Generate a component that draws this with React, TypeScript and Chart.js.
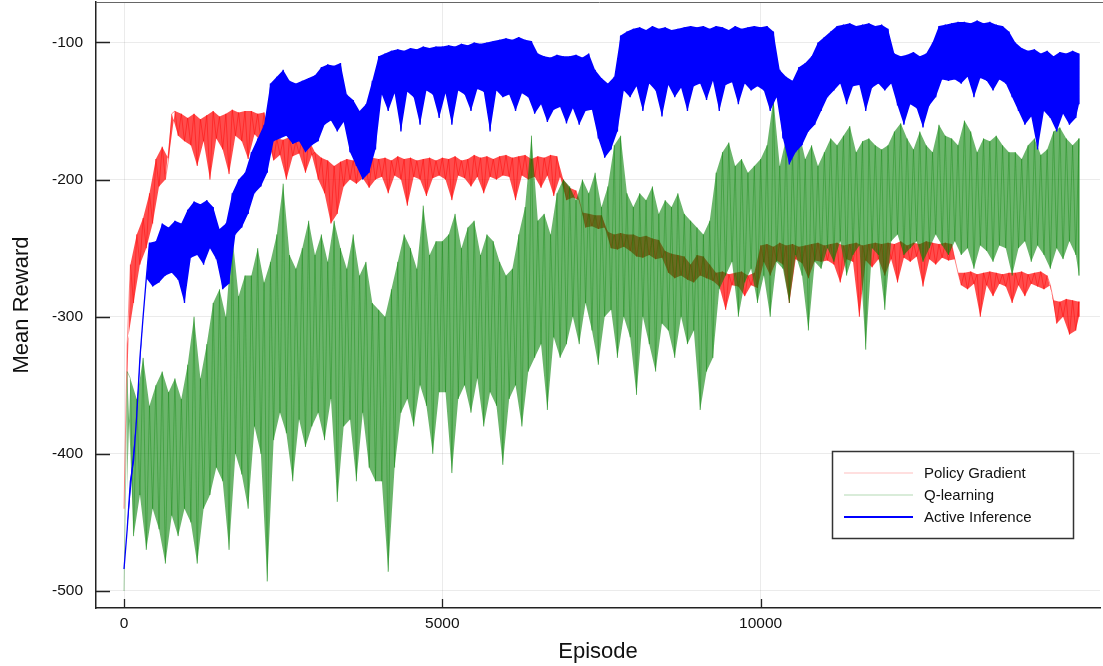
import React, { useEffect, useRef } from "react";
import { Chart, registerables } from "chart.js";
Chart.register(...registerables);

// Two readings per 100-episode bin: at episode i*100 ("even") and i*100+50 ("odd")
const BIN = 100;
const LAST_EPISODE = 15000;
const xTicks = [0, 5000, 10000];
const yTicks = [-500, -400, -300, -200, -100];
const seriesLabels = ["Policy Gradient", "Q-learning", "Active Inference"];

const policyEven = [
  -440, -262, -240, -228, -210, -185, -176, -185, -150, -152,
  -155, -152, -156, -153, -150, -154, -152, -149, -151, -150,
  -150, -152, -151, -168, -170, -171, -169, -172, -170, -171,
  -180, -184, -186, -190, -187, -185, -186, -185, -188, -184,
  -185, -184, -186, -183, -185, -184, -186, -185, -184, -186,
  -184, -185, -183, -186, -185, -182, -184, -183, -185, -183,
  -182, -184, -183, -182, -185, -183, -184, -182, -183, -200,
  -206, -208, -224, -225, -226, -226, -238, -240, -239, -240,
  -240, -242, -241, -243, -244, -252, -254, -255, -256, -262,
  -255, -256, -262, -268, -267, -269, -268, -267, -270, -268,
  -248, -247, -249, -246, -248, -247, -249, -248, -247, -246,
  -248, -247, -246, -248, -247, -246, -248, -247, -246, -247,
  -246, -247, -245, -248, -246, -247, -245, -246, -247, -246,
  -247, -268, -268, -267, -269, -268, -267, -268, -269, -268,
  -268, -267, -269, -268, -267, -270, -288, -289, -287, -288,
  -289,
];
const policyOdd = [
  -320, -290, -262, -250, -232, -205, -200, -152, -168, -172,
  -175, -190, -172, -200, -170, -178, -196, -168, -172, -185,
  -167, -172, -170, -186, -182, -200, -183, -181, -195, -182,
  -200, -210, -232, -225, -205, -200, -203, -199, -206, -200,
  -198, -210, -197, -200, -219, -198, -200, -212, -199, -197,
  -200, -215, -197, -199, -205, -198, -210, -198, -200, -197,
  -198, -215, -197, -200, -198, -206, -197, -212, -198, -215,
  -213, -215, -235, -234, -236, -235, -250, -251, -249, -252,
  -256, -257, -255, -258, -257, -268, -272, -270, -273, -275,
  -270, -272, -274, -278, -295, -277, -278, -285, -277, -279,
  -260, -270, -259, -262, -290, -258, -261, -272, -259, -260,
  -259, -262, -275, -258, -260, -300, -259, -264, -258, -270,
  -258, -275, -257, -260, -256, -278, -258, -262, -257, -259,
  -258, -277, -280, -276, -300, -277, -285, -276, -278, -290,
  -277, -285, -276, -278, -280, -277, -305, -300, -313, -310,
  -300,
];

const qEven = [
  -500, -345, -360, -330, -365, -350, -340, -355, -345, -360,
  -335, -300, -345, -320, -290, -280, -300, -240, -285, -270,
  -270, -250, -275, -260, -240, -203, -255, -265, -250, -230,
  -255, -240, -260, -230, -250, -265, -240, -270, -260, -290,
  -295, -300, -280, -260, -240, -250, -265, -219, -255, -245,
  -245, -240, -225, -250, -235, -230, -255, -240, -245, -260,
  -270, -265, -240, -220, -168, -230, -225, -240, -210, -200,
  -205, -215, -200, -210, -195, -220, -205, -175, -168, -210,
  -220, -210, -215, -205, -225, -215, -220, -210, -225, -230,
  -235, -240, -230, -195, -180, -173, -190, -185, -195, -190,
  -185, -175, -141, -190, -170, -180, -165, -185, -175, -190,
  -180, -170, -175, -168, -161, -180, -172, -170, -175, -178,
  -175, -165, -159, -170, -178, -165, -175, -180, -160, -168,
  -170, -175, -157, -165, -180, -170, -172, -168, -175, -180,
  -180, -185, -175, -170, -182, -178, -165, -162, -170, -175,
  -170,
];
const qOdd = [
  -340, -460, -430, -470, -440, -455, -480, -445, -460, -440,
  -450, -480, -440, -430, -410, -420, -470, -400, -415, -440,
  -380, -400, -493, -390, -370, -385, -420, -375, -395, -380,
  -370, -390, -360, -435, -380, -375, -420, -370, -410, -420,
  -420, -486, -410, -370, -360, -380, -350, -365, -400, -355,
  -355, -414, -360, -350, -370, -345, -380, -355, -365, -408,
  -360, -350, -380, -340, -330, -320, -368, -315, -330, -320,
  -300, -320, -290, -310, -335, -300, -295, -330, -300, -315,
  -357, -300, -320, -340, -305, -310, -330, -300, -320, -310,
  -368, -340, -330, -280, -270, -260, -300, -275, -265, -290,
  -270, -300, -260, -265, -290, -255, -270, -310, -260, -265,
  -250, -260, -245, -270, -255, -248, -324, -250, -255, -295,
  -245, -240, -255, -250, -245, -260, -250, -240, -248, -255,
  -245, -255, -250, -265, -248, -252, -260, -248, -250, -270,
  -250, -245, -260, -248, -255, -265, -250, -258, -245, -255,
  -270,
];

const activeEven = [
  -484, -420, -372, -300, -246, -245, -232, -235, -230, -232,
  -222, -216, -218, -215, -220, -236, -232, -210, -200, -195,
  -180, -170, -160, -130, -125, -120, -128, -130, -128, -126,
  -124, -118, -116, -117, -115, -138, -142, -150, -145, -128,
  -110, -108, -106, -105, -106, -104, -105, -103, -104, -103,
  -103, -102, -103, -101, -102, -100, -101, -100, -99, -98,
  -97, -98, -96, -98, -99, -108, -110, -111, -109, -110,
  -110, -109, -111, -108, -120, -126, -130, -125, -95, -92,
  -90, -89, -91, -88, -90, -89, -91, -90, -89, -88,
  -89, -88, -90, -88, -89, -91, -88, -90, -89, -88,
  -89, -88, -92, -120, -125, -128, -118, -115, -110, -100,
  -96, -92, -88, -87, -86, -88, -87, -86, -88, -87,
  -90, -108, -110, -109, -107, -110, -108, -100, -88, -87,
  -86, -85, -85, -86, -84, -86, -85, -87, -88, -92,
  -100, -104, -106, -105, -108, -106, -110, -107, -108, -106,
  -108,
];
const activeOdd = [
  -455, -405, -330, -272, -278, -275, -270, -268, -273, -290,
  -257, -255, -262, -250, -258, -280, -276, -240, -235, -225,
  -210, -205, -195, -172, -170, -168, -174, -172, -180, -175,
  -172, -160, -157, -165, -158, -180, -190, -200, -195, -178,
  -138, -150, -137, -165, -136, -140, -160, -135, -138, -155,
  -137, -160, -135, -138, -150, -134, -136, -165, -135, -140,
  -138, -150, -137, -140, -152, -145, -158, -149, -147, -159,
  -148, -160, -150, -149, -170, -184, -178, -165, -135, -140,
  -132, -150, -130, -135, -154, -131, -140, -133, -150, -132,
  -130, -142, -128, -150, -131, -129, -145, -130, -135, -132,
  -135, -150, -140, -170, -189, -180, -175, -165, -160, -150,
  -140, -135, -130, -145, -132, -131, -150, -133, -130, -135,
  -130, -146, -160, -145, -148, -162, -146, -140, -127, -128,
  -127, -130, -125, -140, -126, -128, -135, -127, -130, -140,
  -150, -160, -154, -178, -150, -155, -165, -152, -160, -155,
  -145,
];

const X_MIN = -440;
const X_MAX = 15330;
const Y_MIN = -512.4;
const Y_MAX = -70.5;

const FONT = "'Liberation Sans', Arial, Helvetica, sans-serif";

function evenPoints(even: number[]) {
  return even.map((v, i) => ({ x: i * BIN, y: v }));
}
function oddPoints(odd: number[]) {
  return odd.map((v, i) => ({ x: Math.min(i * BIN + BIN / 2, LAST_EPISODE), y: v }));
}
function zigzag(even: number[], odd: number[]) {
  const pts: { x: number; y: number }[] = [];
  for (let i = 0; i < even.length; i++) {
    pts.push({ x: i * BIN, y: even[i] });
    pts.push({ x: Math.min(i * BIN + BIN / 2, LAST_EPISODE), y: odd[i] });
  }
  return pts;
}

const legendStyles = [
  { color: "rgba(255,0,0,0.25)", width: 1.2 },
  { color: "rgba(0,128,0,0.2)", width: 1.5 },
  { color: "rgb(0,0,255)", width: 2 },
];

function zeroPadding(s: any) {
  s.paddingTop = 0;
  s.paddingBottom = 0;
  s.paddingLeft = 0;
  s.paddingRight = 0;
}

const decorPlugin = {
  id: "decor",
  afterDatasetsDraw(chart: any) {
    const { ctx, chartArea: a, scales } = chart;
    ctx.save();
    ctx.strokeStyle = "#666";
    ctx.lineWidth = 1;
    ctx.beginPath();
    ctx.moveTo(a.left, a.top + 0.5);
    ctx.lineTo(chart.width, a.top + 0.5);
    ctx.stroke();
    ctx.strokeStyle = "#222";
    ctx.lineWidth = 1.3;
    ctx.beginPath();
    yTicks.forEach((v) => {
      const y = Math.round(scales.y.getPixelForValue(v)) + 0.5;
      ctx.moveTo(a.left, y);
      ctx.lineTo(a.left + 14, y);
    });
    xTicks.forEach((v) => {
      const x = Math.round(scales.x.getPixelForValue(v)) + 0.5;
      ctx.moveTo(x, a.bottom);
      ctx.lineTo(x, a.bottom - 9);
    });
    ctx.stroke();
    const bw = 241;
    const bh = 87;
    const bx = a.right - 27 - bw;
    const by = a.bottom - 70 - bh;
    ctx.fillStyle = "#fff";
    ctx.fillRect(bx, by, bw, bh);
    ctx.strokeStyle = "#333";
    ctx.lineWidth = 1.5;
    ctx.strokeRect(bx + 0.5, by + 0.5, bw, bh);
    ctx.font = `15px ${FONT}`;
    ctx.textBaseline = "middle";
    ctx.textAlign = "left";
    seriesLabels.forEach((label, i) => {
      const y = by + 22 + i * 22;
      ctx.strokeStyle = legendStyles[i].color;
      ctx.lineWidth = legendStyles[i].width;
      ctx.beginPath();
      ctx.moveTo(bx + 12, y);
      ctx.lineTo(bx + 81, y);
      ctx.stroke();
      ctx.fillStyle = "#111";
      ctx.fillText(label, bx + 92, y + 1);
    });
    ctx.restore();
  },
};

function seriesGroup(label: string, even: number[], odd: number[], band: string, line: string, width: number, baseOrder: number) {
  return [
    {
      label: label + " band",
      data: evenPoints(even),
      borderWidth: 0,
      borderColor: "rgba(0,0,0,0)",
      backgroundColor: band,
      fill: "+1",
      order: baseOrder + 2,
    },
    {
      label: label + " band lower",
      data: oddPoints(odd),
      borderWidth: 0,
      borderColor: "rgba(0,0,0,0)",
      fill: false,
      order: baseOrder + 1,
    },
    {
      label,
      data: zigzag(even, odd),
      borderColor: line,
      borderWidth: width,
      fill: false,
      order: baseOrder,
    },
  ];
}

export default function App() {
  const ref = useRef<HTMLCanvasElement | null>(null);
  useEffect(() => {
    const canvas = ref.current;
    if (!canvas) return;
    const chart = new Chart(canvas, {
      type: "line",
      data: {
        datasets: [
          ...seriesGroup(seriesLabels[0], policyEven, policyOdd, "rgba(255,0,0,0.7)", "rgba(255,0,0,0.45)", 1, 7),
          ...seriesGroup(seriesLabels[1], qEven, qOdd, "rgba(0,128,0,0.58)", "rgba(0,128,0,0.35)", 1, 4),
          ...seriesGroup(seriesLabels[2], activeEven, activeOdd, "rgb(0,0,255)", "rgb(0,0,255)", 1.3, 1),
        ],
      },
      options: {
        animation: false,
        responsive: false,
        events: [],
        layout: { padding: { top: 2, right: 3, left: 0, bottom: 0 } },
        elements: {
          point: { radius: 0 },
          line: { tension: 0, borderJoinStyle: "bevel" },
        },
        plugins: {
          legend: { display: false },
          tooltip: { enabled: false },
          filler: { propagate: false },
        },
        scales: {
          x: {
            type: "linear",
            min: X_MIN,
            max: X_MAX,
            afterBuildTicks: (s: any) => {
              s.ticks = xTicks.map((v) => ({ value: v }));
            },
            afterFit: (s: any) => {
              s.height = 58;
              zeroPadding(s);
            },
            grid: { color: "rgba(0,0,0,0.08)", drawTicks: false, lineWidth: 1 },
            border: { color: "#222", width: 1.5 },
            ticks: {
              padding: 6,
              maxRotation: 0,
              autoSkip: false,
              color: "#111",
              font: { size: 15.5, family: FONT },
              callback: (v: any) => String(v),
            },
            title: {
              display: true,
              text: "Episode",
              color: "#111",
              font: { size: 22, family: FONT },
              padding: { top: 0, bottom: 1 },
            },
          },
          y: {
            type: "linear",
            min: Y_MIN,
            max: Y_MAX,
            afterBuildTicks: (s: any) => {
              s.ticks = yTicks.map((v) => ({ value: v }));
            },
            afterFit: (s: any) => {
              s.width = 96;
              zeroPadding(s);
            },
            grid: { color: "rgba(0,0,0,0.08)", drawTicks: false, lineWidth: 1 },
            border: { color: "#222", width: 1.5 },
            ticks: {
              padding: 13,
              autoSkip: false,
              color: "#111",
              font: { size: 15.5, family: FONT },
              callback: (v: any) => String(v),
            },
            title: {
              display: true,
              text: "Mean Reward",
              color: "#111",
              font: { size: 22, family: FONT },
              padding: { top: 9, bottom: 0 },
            },
          },
        },
      },
      plugins: [decorPlugin],
    });
    return () => chart.destroy();
  }, []);
  return (
    <div style={{ position: "absolute", left: 0, top: 0, width: 1103, height: 666, background: "#fff" }}>
      <canvas ref={ref} width={1103} height={666} style={{ display: "block" }} />
    </div>
  );
}
